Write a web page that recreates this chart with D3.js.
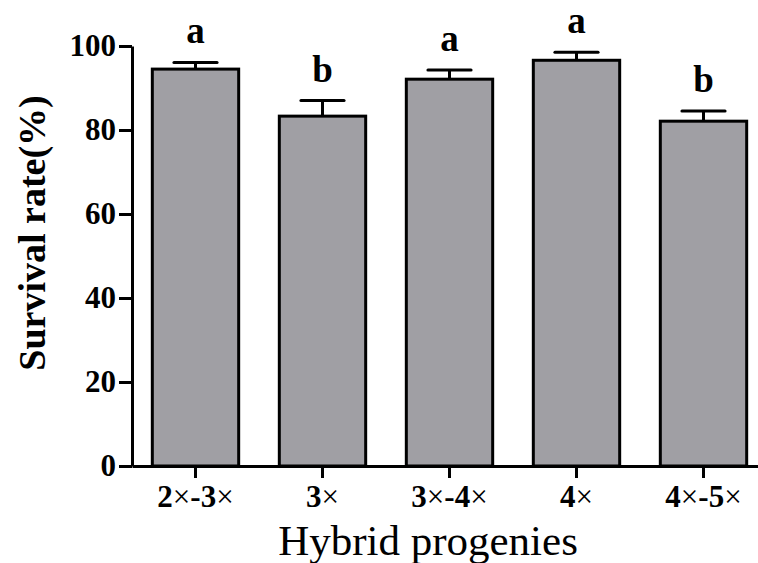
<!DOCTYPE html>
<html>
<head>
<meta charset="utf-8">
<script src="https://cdn.jsdelivr.net/npm/d3@7"></script>
<style>
  body { margin: 0; background: #fff; }
  svg { display: block; }
  text { font-family: 'Liberation Serif', 'Times New Roman', serif; }
</style>
</head>
<body>
<svg id="chart" width="758" height="563"></svg>
<script>
// values
const categories = ['2×-3×', '3×', '3×-4×', '4×', '4×-5×'];
const means = [94.5, 83.3, 92.1, 96.6, 82.1];
const errors = [1.6, 3.7, 2.2, 1.9, 2.4];
const letters = ['a', 'b', 'a', 'a', 'b'];
const yTicks = [0, 20, 40, 60, 80, 100];

const FONT = "'Liberation Serif', 'Times New Roman', serif";
const data = categories.map((c, i) => ({cat: c, mean: means[i], err: errors[i], letter: letters[i]}));

let svg = d3.select('#chart');

const x = d3.scaleBand()
	.domain(categories)
	.range([132, 767])
	.paddingInner(0.32)
	.paddingOuter(0.16);

const y = d3.scaleLinear()
	.domain([0, 100])
	.range([466, 46]);

// bars
svg.selectAll('.bar')
	.data(data)
	.enter()
	.append('rect')
	.attr('class', 'bar')
	.attr('x', d => x(d.cat))
	.attr('y', d => y(d.mean))
	.attr('width', x.bandwidth())
	.attr('height', d => y(0) - y(d.mean))
	.attr('fill', '#a09fa4')
	.attr('stroke', '#000')
	.attr('stroke-width', 3);

// error bars (upper only)
const cx = d => x(d.cat) + x.bandwidth() / 2;
svg.selectAll('.err')
	.data(data)
	.enter()
	.append('line')
	.attr('class', 'err')
	.attr('x1', cx).attr('x2', cx)
	.attr('y1', d => y(d.mean))
	.attr('y2', d => y(d.mean + d.err))
	.attr('stroke', '#000')
	.attr('stroke-width', 3);

svg.selectAll('.cap')
	.data(data)
	.enter()
	.append('line')
	.attr('class', 'cap')
	.attr('x1', d => cx(d) - x.bandwidth() / 4)
	.attr('x2', d => cx(d) + x.bandwidth() / 4)
	.attr('y1', d => y(d.mean + d.err))
	.attr('y2', d => y(d.mean + d.err))
	.attr('stroke', '#000')
	.attr('stroke-width', 3)
	.attr('stroke-linecap', 'round');

// significance letters
svg.selectAll('.sig')
	.data(data)
	.enter()
	.append('text')
	.attr('class', 'sig')
	.attr('x', cx)
	.attr('y', d => y(d.mean + d.err) - 19)
	.attr('text-anchor', 'middle')
	.style('font-family', FONT)
	.style('font-size', '37px')
	.style('font-weight', 'bold')
	.text(d => d.letter);

// y axis
const yAxis = svg.append('g')
	.attr('transform', 'translate(132,0)')
	.call(d3.axisLeft(y).tickValues(yTicks).tickSize(13).tickSizeOuter(0).tickPadding(3));

// x axis
const xAxis = svg.append('g')
	.attr('transform', 'translate(0,466)')
	.call(d3.axisBottom(x).tickSize(12).tickSizeOuter(0).tickFormat(''));

[yAxis, xAxis].forEach(g => {
	g.attr('font-family', null);
	g.select('.domain').attr('stroke', '#000').attr('stroke-width', 3);
	g.selectAll('.tick line').attr('stroke', '#000').attr('stroke-width', 3);
});

yAxis.selectAll('.tick text')
	.style('font-family', FONT)
	.style('font-size', '31px')
	.style('font-weight', 'bold')
	.attr('fill', '#000');

// category labels: digits bold, "×" plain
xAxis.selectAll('.tick')
	.append('text')
	.attr('y', 41)
	.attr('fill', '#000')
	.attr('text-anchor', 'middle')
	.style('font-family', FONT)
	.style('font-size', '31px')
	.each(function (d) {
		const t = d3.select(this);
		d.split('').forEach(ch => {
			t.append('tspan')
				.style('font-weight', ch === '×' ? 'normal' : 'bold')
				.text(ch);
		});
	});

// axis titles
svg.append('text')
	.attr('x', 428)
	.attr('y', 555)
	.attr('text-anchor', 'middle')
	.style('font-family', FONT)
	.style('font-size', '43px')
	.text('Hybrid progenies');

svg.append('text')
	.attr('transform', 'translate(45,233) rotate(-90)')
	.attr('text-anchor', 'middle')
	.style('font-family', FONT)
	.style('font-size', '38px')
	.style('font-weight', 'bold')
	.text('Survival rate(%)');
</script>
</body>
</html>
